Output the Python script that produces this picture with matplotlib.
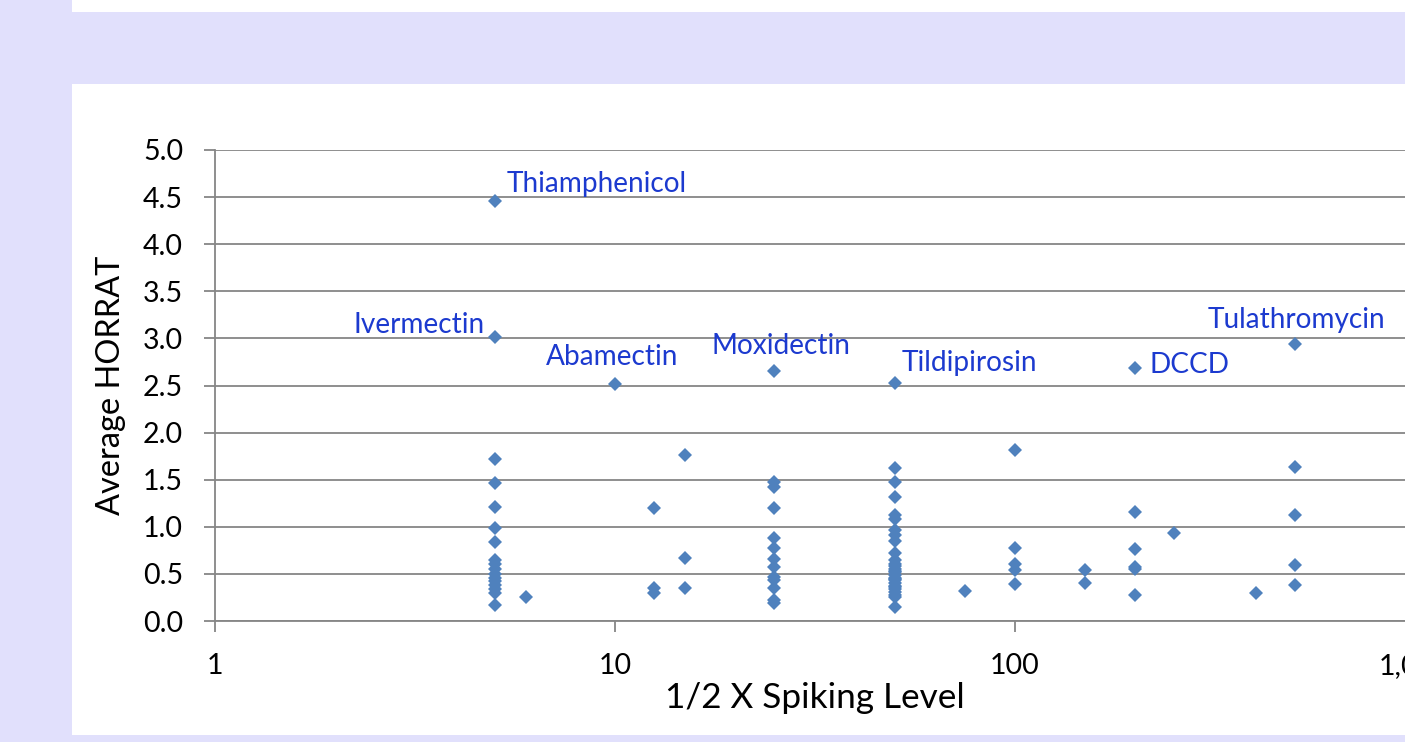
import matplotlib
matplotlib.use("Agg")
import matplotlib.pyplot as plt
from matplotlib.patches import Rectangle
from matplotlib.ticker import FixedLocator, FixedFormatter, NullLocator

# ---- data ----
spike_level = (
    [5]*17 + [6] + [10] + [12.5]*3 + [15]*3 + [25]*13 + [50]*28 + [75]
    + [100]*5 + [150]*2 + [200]*6 + [250] + [400] + [500]*5
)
avg_horrat = (
    [4.46, 3.02, 1.72, 1.46, 1.21, 0.99, 0.84, 0.65, 0.60, 0.55, 0.50, 0.46, 0.42, 0.38, 0.34, 0.30, 0.17]
    + [0.26]
    + [2.52]
    + [1.20, 0.35, 0.30]
    + [1.76, 0.67, 0.35]
    + [2.65, 1.48, 1.42, 1.20, 0.88, 0.77, 0.66, 0.57, 0.47, 0.44, 0.35, 0.22, 0.19]
    + [2.53, 1.62, 1.48, 1.32, 1.13, 1.08, 0.97, 0.91, 0.85, 0.72, 0.61, 0.58, 0.55, 0.52,
       0.49, 0.46, 0.43, 0.40, 0.37, 0.34, 0.31, 0.28, 0.25, 0.15, 0.65, 0.53, 0.45, 0.36]
    + [0.32]
    + [1.82, 0.78, 0.60, 0.54, 0.39]
    + [0.54, 0.40]
    + [2.69, 1.16, 0.76, 0.57, 0.55, 0.28]
    + [0.93]
    + [0.30]
    + [2.94, 1.63, 1.13, 0.59, 0.38]
)

label_names = ["Thiamphenicol", "Ivermectin", "Abamectin", "Moxidectin",
               "Tildipirosin", "DCCD", "Tulathromycin"]
label_x = [5, 5, 10, 25, 50, 200, 500]
label_y = [4.46, 3.02, 2.52, 2.65, 2.53, 2.69, 2.94]

x_ticks = [1, 10, 100, 1000]
x_tick_labels = ["1", "10", "100", "1,000"]
y_ticks = [0.0, 0.5, 1.0, 1.5, 2.0, 2.5, 3.0, 3.5, 4.0, 4.5, 5.0]
y_tick_labels = ["%.1f" % v for v in y_ticks]

# ---- figure ----
plt.rcParams['font.family'] = ['Lato', 'DejaVu Sans']
W, H = 1405, 742
fig = plt.figure(figsize=(W/100, H/100), dpi=100)
fig.patch.set_facecolor('#E1E0FC')

def px_rect(x0, y0, x1, y1, color):
    fig.patches.append(Rectangle((x0/W, 1 - y1/H), (x1-x0)/W, (y1-y0)/H,
                                 transform=fig.transFigure, facecolor=color,
                                 edgecolor='none', zorder=-5))

px_rect(72, 0, W, 12, 'white')
px_rect(72, 84, W, 735, 'white')

ax = fig.add_axes([215/W, 121/H, 1200/W, 471/H])
ax.set_zorder(2)
ax.set_facecolor('none')
ax.set_xscale('log')
ax.set_xlim(1, 1000)
ax.set_ylim(0, 5)

grid_c = '#868686'
for s in ['top', 'right']:
    ax.spines[s].set_visible(False)
for s in ['left', 'bottom']:
    ax.spines[s].set_color(grid_c)
    ax.spines[s].set_linewidth(1.3)
ax.yaxis.grid(True, color=grid_c, linewidth=1.3)
ax.set_axisbelow(True)

ax.xaxis.set_major_locator(FixedLocator(x_ticks))
ax.xaxis.set_major_formatter(FixedFormatter(x_tick_labels))
ax.xaxis.set_minor_locator(NullLocator())
ax.yaxis.set_major_locator(FixedLocator(y_ticks))
ax.yaxis.set_major_formatter(FixedFormatter(y_tick_labels))
ax.tick_params(axis='both', direction='out', color=grid_c, width=1.3,
               length=8, pad=15, labelsize=20.5, labelcolor='black')

ax.plot(spike_level, avg_horrat, linestyle='none', marker='D', markersize=7.3,
        color='#4F81BD', markeredgewidth=0, clip_on=False, zorder=3)

offsets = [(9, 12, 'left'), (-7, 8, 'right'), (-2, 19, 'center'), (5, 18, 'center'),
           (5, 14, 'left'), (10, 2, 'left'), (1, 17, 'center')]
for name, xv, yv, (dx, dy, ha) in zip(label_names, label_x, label_y, offsets):
    ax.annotate(name, xy=(xv, yv), xytext=(dx, dy), textcoords='offset points',
                ha=ha, va='center', fontsize=20.2, color='#1C3ACF')

ax.set_xlabel("1/2 X Spiking Level", fontsize=25.3, labelpad=2)
ax.set_ylabel("Average HORRAT", fontsize=23.4, labelpad=12)

fig.savefig("out.png", dpi=100, facecolor=fig.get_facecolor())
